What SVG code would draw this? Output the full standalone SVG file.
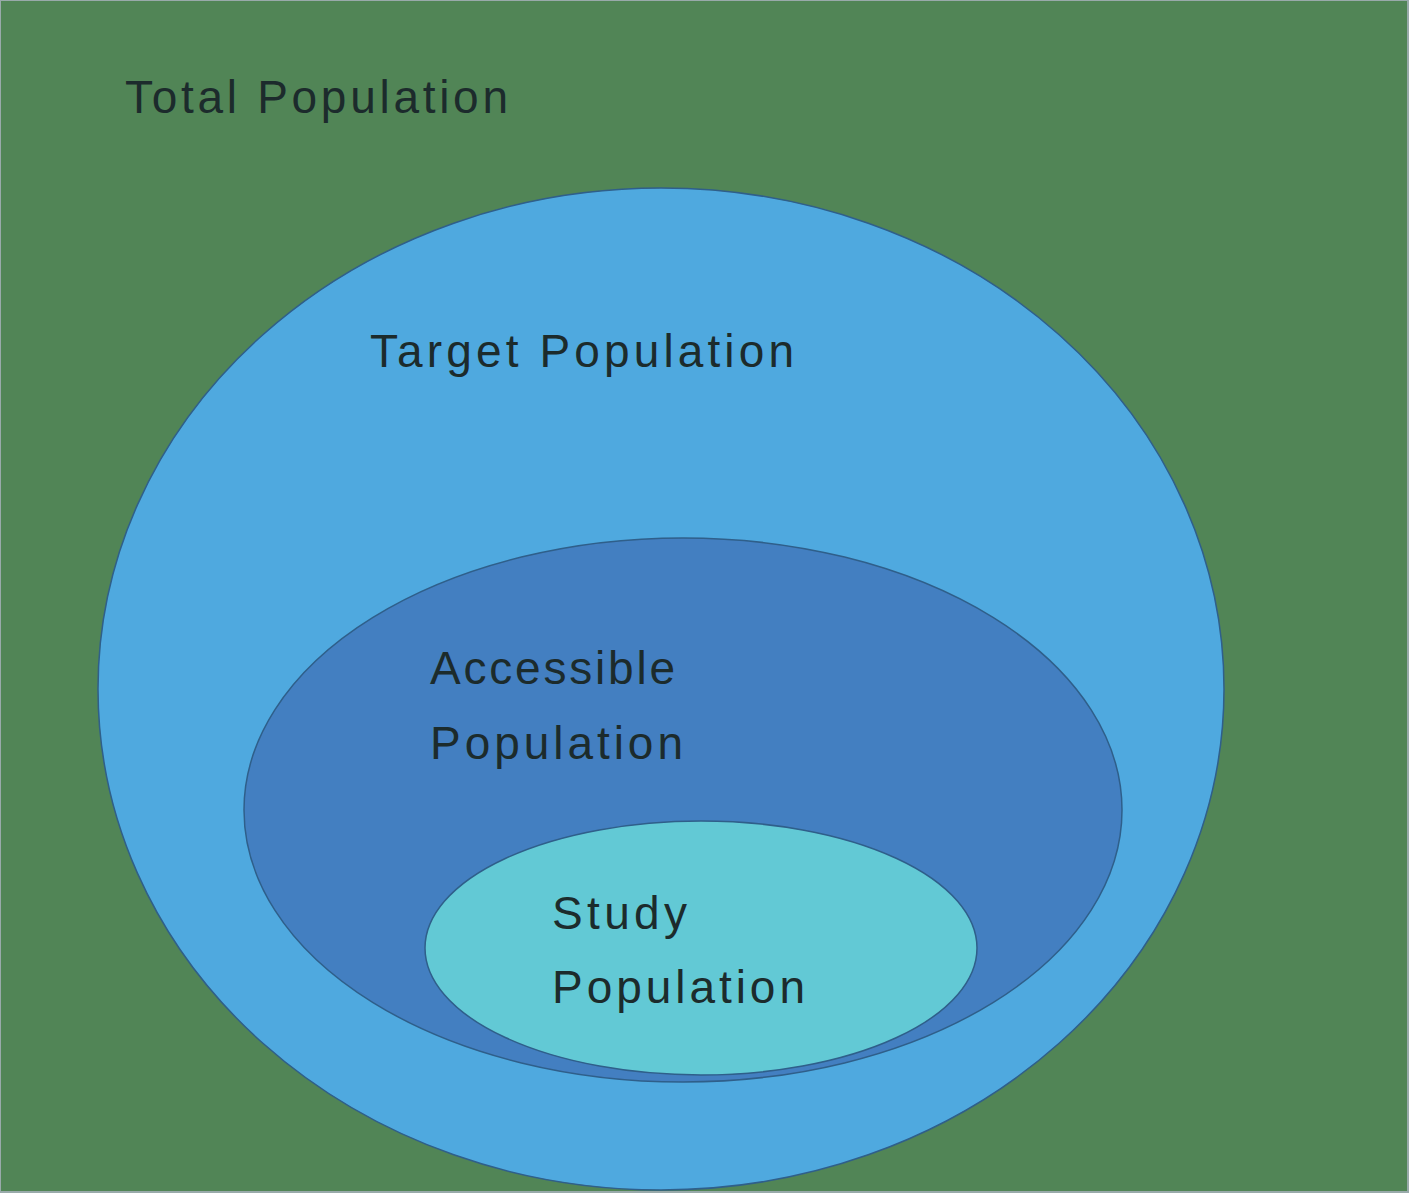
<svg xmlns="http://www.w3.org/2000/svg" width="1415" height="1200" viewBox="0 0 1415 1200">
<style>
text{font-family:"Liberation Sans","DejaVu Sans",sans-serif;font-size:46px;fill:#1c2b2c}
.e{stroke:#2f5f8a;stroke-width:1.5}
</style>
<rect x="0" y="0" width="1415" height="1200" fill="#ffffff"/>
<g id="total"><rect x="0" y="0" width="1408" height="1192" fill="#518556" stroke="#9aa" stroke-width="2"/>
<text x="125" y="113" textLength="383">Total Population</text></g>
<g id="target"><ellipse class="e" cx="661" cy="689" rx="563" ry="501" fill="#4fa9df"/>
<text x="370" y="367" textLength="424">Target Population</text></g>
<g id="accessible"><ellipse class="e" cx="683" cy="810" rx="439" ry="272" fill="#437fc1"/>
<text x="430" y="684" textLength="245">Accessible</text>
<text x="430" y="759" textLength="253">Population</text></g>
<g id="study"><ellipse class="e" cx="701" cy="948" rx="276" ry="127" fill="#62c9d5"/>
<text x="552" y="929" textLength="135">Study</text>
<text x="552" y="1003" textLength="253">Population</text></g>
<g id="connectors"/>
</svg>
